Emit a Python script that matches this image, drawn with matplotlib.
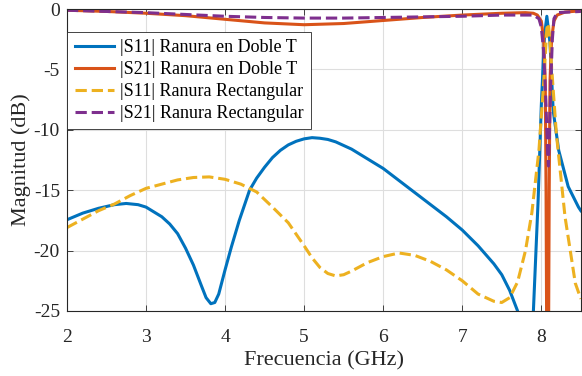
import matplotlib
matplotlib.use("Agg")
import matplotlib.pyplot as plt

# |S11| Ranura en Doble T
f_s11_t = [2.0, 2.2, 2.4, 2.6, 2.75, 2.9, 3.0, 3.2, 3.3, 3.4, 3.5, 3.6, 3.7, 3.76, 3.82,
           3.87, 3.92, 4.0, 4.08, 4.18, 4.31, 4.4, 4.5, 4.6, 4.7, 4.8, 4.9, 5.0, 5.1,
           5.2, 5.3, 5.4, 5.5, 5.6, 5.7, 5.8, 5.9, 6.0, 6.2, 6.4, 6.6, 6.8, 7.0, 7.2,
           7.4, 7.5, 7.6, 7.7, 7.75, 7.8, 7.85, 7.9, 7.96, 8.0, 8.04, 8.07, 8.11, 8.15,
           8.22, 8.34, 8.47, 8.5]
s11_t = [-17.45, -16.9, -16.5, -16.2, -16.1, -16.2, -16.4, -17.2, -17.8, -18.6, -19.8,
         -21.2, -22.9, -23.9, -24.4, -24.3, -23.6, -21.6, -19.7, -17.5, -15.0, -14.0,
         -13.1, -12.3, -11.7, -11.25, -10.95, -10.75, -10.65, -10.7, -10.8, -11.0,
         -11.3, -11.6, -12.0, -12.4, -12.8, -13.2, -14.2, -15.2, -16.2, -17.2, -18.3,
         -19.6, -21.1, -22.0, -23.3, -25.0, -26.5, -30.0, -30.0, -25.0, -15.8, -8.0,
         -2.2, -0.6, -2.8, -8.4, -11.7, -14.7, -16.4, -16.7]

# |S21| Ranura en Doble T
f_s21_t = [2.0, 2.5, 3.0, 3.5, 4.0, 4.5, 5.0, 5.5, 6.0, 6.5, 7.0, 7.5, 7.8, 7.9, 7.95,
           8.0, 8.03, 8.05, 8.06, 8.07, 8.09, 8.1, 8.11, 8.13, 8.16, 8.2, 8.3, 8.5]
s21_t = [-0.1, -0.2, -0.35, -0.55, -0.85, -1.15, -1.3, -1.2, -0.95, -0.7, -0.5, -0.35,
         -0.3, -0.35, -0.5, -1.0, -2.5, -6.0, -15.0, -30.0, -30.0, -15.0, -6.0, -2.5,
         -1.0, -0.5, -0.25, -0.15]

# |S11| Ranura Rectangular
f_s11_r = [2.0, 2.2, 2.4, 2.6, 2.8, 3.0, 3.2, 3.4, 3.6, 3.8, 4.0, 4.2, 4.4, 4.6, 4.8,
           5.0, 5.1, 5.2, 5.3, 5.4, 5.5, 5.6, 5.8, 6.0, 6.2, 6.4, 6.6, 6.8, 7.0, 7.2,
           7.4, 7.5, 7.6, 7.7, 7.8, 7.88, 7.97, 8.03, 8.07, 8.09, 8.11, 8.13, 8.19,
           8.3, 8.43, 8.5]
s11_r = [-18.1, -17.4, -16.7, -16.15, -15.45, -14.85, -14.5, -14.15, -13.95, -13.9,
         -14.1, -14.5, -15.15, -16.4, -17.7, -19.6, -20.6, -21.4, -21.9, -22.1, -22.0,
         -21.7, -21.0, -20.5, -20.2, -20.4, -20.9, -21.6, -22.5, -23.6, -24.2, -24.3,
         -23.9, -22.6, -20.0, -16.9, -11.7, -6.1, -1.6, -1.2, -2.8, -4.8, -10.3, -17.2,
         -22.7, -24.0]

# |S21| Ranura Rectangular
f_s21_r = [2.0, 2.5, 3.0, 3.5, 4.0, 4.5, 5.0, 5.5, 6.0, 6.5, 7.0, 7.5, 7.9, 7.97, 8.0,
           8.03, 8.06, 8.08, 8.09, 8.1, 8.12, 8.14, 8.16, 8.2, 8.5]
s21_r = [-0.1, -0.2, -0.3, -0.45, -0.6, -0.7, -0.75, -0.75, -0.7, -0.65, -0.6, -0.5,
         -0.5, -0.8, -1.5, -3.5, -8.0, -12.0, -13.0, -11.0, -6.0, -2.5, -0.8, -0.3,
         -0.2]

plt.rcParams["font.family"] = ["Liberation Serif", "DejaVu Serif"]
plt.rcParams["axes.unicode_minus"] = False

fig = plt.figure(figsize=(5.82, 3.76), dpi=100)
ax = fig.add_axes([0.115, 0.173, 0.883, 0.803])

ax.plot(f_s11_t, s11_t, color="#0072BD", lw=2.2, label="|S11| Ranura en Doble T")
ax.plot(f_s21_t, s21_t, color="#D95319", lw=2.2, label="|S21| Ranura en Doble T")
ax.plot(f_s11_r, s11_r, color="#EDB120", lw=2.2, ls="--", label="|S11| Ranura Rectangular")
ax.plot(f_s21_r, s21_r, color="#7E2F8E", lw=2.2, ls="--", label="|S21| Ranura Rectangular")

ax.set_xlim(2, 8.5)
ax.set_ylim(-25, 0)
ax.set_xticks([2, 3, 4, 5, 6, 7, 8])
ax.set_yticks([-25, -20, -15, -10, -5, 0])
ax.grid(True, color="#dedede", lw=0.8)
ax.set_axisbelow(True)
ax.tick_params(direction="in", top=True, right=True, labelsize=14, colors="#262626",
               length=4, width=0.6)
ax.tick_params(axis="x", pad=13)
ax.tick_params(axis="y", pad=5)
for s in ax.spines.values():
    s.set_color("#262626")
    s.set_linewidth(0.8)

ax.set_xlabel("Frecuencia (GHz)", fontsize=16, color="#262626", labelpad=4)
ax.set_ylabel("Magnitud (dB)", fontsize=16, color="#262626", labelpad=2)

leg = ax.legend(loc="upper left", bbox_to_anchor=(0.0, 0.925), fontsize=13,
                fancybox=False, framealpha=1, edgecolor="#262626", borderpad=0.42,
                labelspacing=0.27, handlelength=2.2, handletextpad=0.3, borderaxespad=0)
leg.get_frame().set_linewidth(0.6)

fig.savefig("out.png", dpi=100)
